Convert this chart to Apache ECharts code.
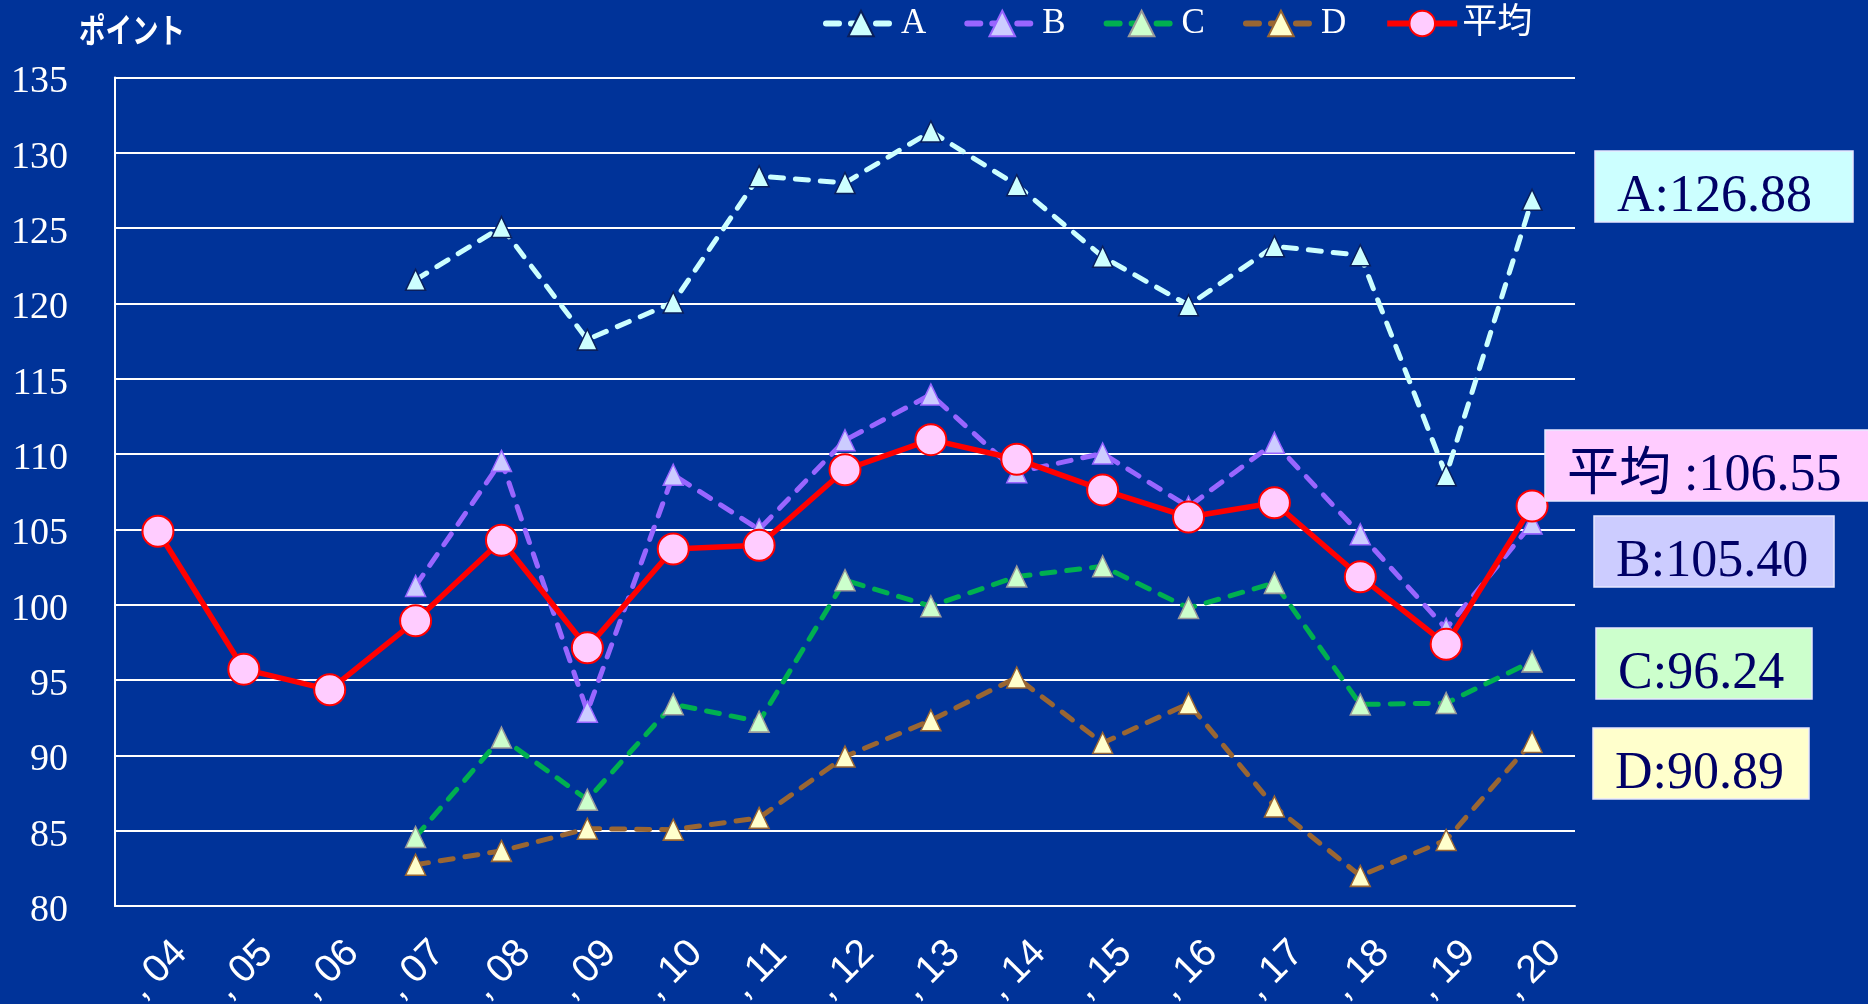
<!DOCTYPE html>
<html>
<head>
<meta charset="utf-8">
<script src="https://cdn.jsdelivr.net/npm/echarts@6/dist/echarts.min.js"></script>
<style>
  html, body { margin: 0; padding: 0; background: #003399; }
  #chart { width: 1868px; height: 1004px; }
</style>
</head>
<body>
<div id="chart"></div>
<script>
// Year categories on the x axis
const years = [', 04', ', 05', ', 06', ', 07', ', 08', ', 09', ', 10', ', 11', ', 12',
               ', 13', ', 14', ', 15', ', 16', ', 17', ', 18', ', 19', ', 20'];

// Point values per group (A–D start in 2007)
const seriesA = [null, null, null, 121.57, 125.07, 117.60, 120.07, 128.45, 128.00,
                 131.42, 127.85, 123.10, 119.88, 123.80, 123.20, 108.60, 126.88];
const seriesB = [null, null, null, 101.25, 109.55, 92.90, 108.63, 105.00, 110.92,
                 113.95, 108.80, 110.04, 106.50, 110.75, 104.68, 98.40, 105.40];
const seriesC = [null, null, null, 84.58, 91.18, 87.05, 93.40, 92.24, 101.63,
                 99.90, 101.87, 102.55, 99.78, 101.45, 93.38, 93.47, 96.24];
const seriesD = [null, null, null, 82.74, 83.66, 85.13, 85.07, 85.85, 89.92,
                 92.33, 95.17, 90.82, 93.44, 86.60, 82.00, 84.38, 90.89];
const average = [104.88, 95.72, 94.35, 98.93, 104.28, 97.14, 103.70, 103.95, 108.96,
                 110.96, 109.66, 107.62, 105.82, 106.77, 101.86, 97.37, 106.55];

// Y axis range
const yMin = 80, yMax = 135, yStep = 5;

const last = arr => arr[arr.length - 1].toFixed(2);

const chart = echarts.init(document.getElementById('chart'), null, { renderer: 'canvas' });

function dashed(name, data, lineColor, fill, border) {
  return {
    name, type: 'line', data,
    symbol: 'triangle', symbolSize: [20, 21],
    lineStyle: { color: lineColor, width: 5, type: [13, 12], cap: 'round' },
    itemStyle: { color: fill, borderColor: border, borderWidth: 1.5 },
    emphasis: { disabled: true }
  };
}

// Value boxes at the right edge, text built from the 2020 values
const boxes = [
  { text: 'A:' + last(seriesA), fill: '#CCFFFF', x: 1595, y: 151, w: 258, h: 71 },
  { text: '平均 :' + last(average), fill: '#FFCCFF', x: 1545, y: 430, w: 330, h: 71 },
  { text: 'B:' + last(seriesB), fill: '#CCCCFF', x: 1594, y: 516, w: 240, h: 71 },
  { text: 'C:' + last(seriesC), fill: '#CCFFCC', x: 1596, y: 628, w: 216, h: 71 },
  { text: 'D:' + last(seriesD), fill: '#FFFFCC', x: 1593, y: 728, w: 216, h: 71 }
];

const graphics = [
  {
    type: 'text', x: 79, y: 30, scaleX: 0.78,
    style: {
      text: 'ポイント', fill: '#ffffff',
      font: 'bold 34px "Noto Sans CJK JP"',
      align: 'left', verticalAlign: 'middle'
    }
  }
];
boxes.forEach(b => {
  graphics.push({
    type: 'rect',
    shape: { x: b.x, y: b.y, width: b.w, height: b.h },
    style: { fill: b.fill, stroke: '#E8E8FF', lineWidth: 1.5 },
    z: 10
  });
  graphics.push({
    type: 'text', x: b.x + 22, y: b.y + b.h / 2 + 11,
    style: {
      text: b.text, fill: '#000066',
      font: '52px "Liberation Serif", "Noto Sans CJK JP"',
      align: 'left', verticalAlign: 'middle'
    },
    z: 11
  });
});

chart.setOption({
  backgroundColor: '#003399',
  animation: false,
  legend: {
    left: 823, top: 6, padding: 0,
    itemWidth: 70, itemHeight: 32, itemGap: 38,
    lineStyle: { width: 6 },
    textStyle: { color: '#ffffff', fontSize: 35, fontFamily: '"Liberation Serif", "Noto Sans CJK JP"' },
    data: ['A', 'B', 'C', 'D', '平均']
  },
  grid: {
    left: 115, right: 293, top: 77.5, bottom: 98,
    containLabel: false, outerBoundsMode: 'none'
  },
  xAxis: {
    type: 'category', data: years, boundaryGap: true,
    axisLine: { show: true, lineStyle: { color: '#ffffff', width: 2 } },
    axisTick: { show: false },
    axisLabel: {
      interval: 0, rotate: 45, align: 'center', verticalAlign: 'middle', margin: 64,
      color: '#ffffff', fontSize: 39, fontFamily: '"Liberation Sans"'
    }
  },
  yAxis: {
    type: 'value', min: yMin, max: yMax, interval: yStep,
    axisLine: { show: true, lineStyle: { color: '#ffffff', width: 2 } },
    axisTick: { show: false },
    splitLine: { show: true, lineStyle: { color: '#ffffff', width: 2 } },
    axisLabel: {
      color: '#ffffff', fontSize: 38, fontFamily: '"Liberation Serif"', margin: 47,
      verticalAlign: 'top', lineHeight: 10
    }
  },
  series: [
    dashed('A', seriesA, '#CCFFFF', '#CCFFFF', '#0A1F5C'),
    dashed('B', seriesB, '#9966FF', '#CCCCFF', '#9966FF'),
    dashed('C', seriesC, '#00B050', '#CCFFCC', '#999999'),
    dashed('D', seriesD, '#996633', '#FFFFCC', '#996633'),
    {
      name: '平均', type: 'line', data: average,
      symbol: 'circle', symbolSize: 31,
      lineStyle: { color: '#FF0000', width: 5.5 },
      itemStyle: { color: '#FFCCFF', borderColor: '#FF0000', borderWidth: 2 },
      emphasis: { disabled: true }
    }
  ],
  graphic: graphics
});
</script>
</body>
</html>
